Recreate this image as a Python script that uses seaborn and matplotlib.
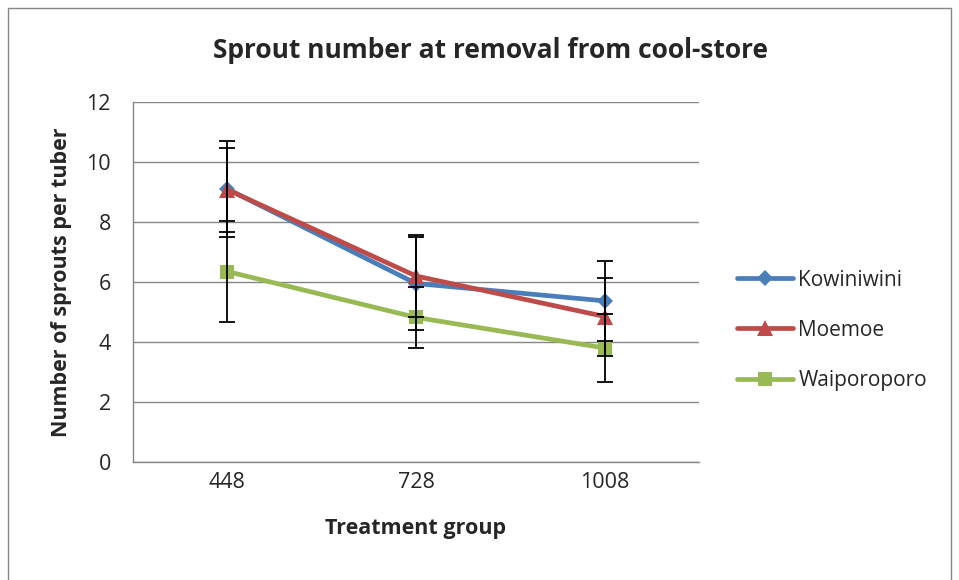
import matplotlib
matplotlib.use("Agg")
import matplotlib.pyplot as plt
import seaborn as sns
import pandas as pd
import numpy as np
from matplotlib.patches import Rectangle

groups = ["448", "728", "1008"]
series = ["Kowiniwini", "Moemoe", "Waiporoporo"]
kowiniwini = [9.1, 5.95, 5.37]
kowiniwini_err = [1.6, 1.55, 1.34]
moemoe = [9.08, 6.2, 4.85]
moemoe_err = [1.4, 1.37, 1.3]
waiporoporo = [6.35, 4.82, 3.8]
waiporoporo_err = [1.67, 1.02, 1.12]

values = {"Kowiniwini": kowiniwini, "Moemoe": moemoe, "Waiporoporo": waiporoporo}
errors = {"Kowiniwini": kowiniwini_err, "Moemoe": moemoe_err, "Waiporoporo": waiporoporo_err}

rows = []
for s in series:
    for i, g in enumerate(groups):
        rows.append({"pos": i, "group": g, "series": s, "value": values[s][i], "err": errors[s][i]})
df = pd.DataFrame(rows)

sns.set_theme(style="white")
plt.rcParams["font.family"] = ["Open Sans", "DejaVu Sans"]

colors = {"Kowiniwini": "#4A7EBB", "Moemoe": "#BE4B48", "Waiporoporo": "#98B954"}
markers = {"Kowiniwini": "D", "Moemoe": "^", "Waiporoporo": "s"}
msizes = {"Kowiniwini": 8, "Moemoe": 11, "Waiporoporo": 10}

fig = plt.figure(figsize=(9.59, 5.8), dpi=100)
fig.patches.append(Rectangle((8/959, -10/580), 943/959, 582/580, transform=fig.transFigure,
                             fill=False, edgecolor="#868686", linewidth=1.0))
ax = fig.add_axes([133/959, 1-462/580, (699-133)/959, (462-102)/580])

for s in series:
    sub = df[df["series"] == s]
    sns.lineplot(data=sub, x="pos", y="value", ax=ax, color=colors[s], linewidth=3.4,
                 marker=markers[s], markersize=msizes[s], markeredgewidth=0,
                 label=s, zorder=3)

for s in series:
    sub = df[df["series"] == s]
    ax.errorbar(sub["pos"], sub["value"], yerr=sub["err"], fmt="none", ecolor="black",
                elinewidth=1.3, capsize=5.5, capthick=1.3, zorder=4)

ax.set_xlim(-0.5, 2.5)
ax.set_ylim(0, 12)
ax.set_yticks(range(0, 13, 2))
ax.set_xticks(range(len(groups)))
ax.set_xticklabels(groups)
ax.set_xticks([-0.5, 0.5, 1.5, 2.5], minor=True)
ax.tick_params(axis="x", which="major", length=0, pad=7, labelsize=15.5)
ax.tick_params(axis="x", which="minor", length=6, width=1, color="#868686", direction="out")
ax.tick_params(axis="y", length=6, width=1, color="#868686", direction="out", labelsize=15.5, pad=10)
ax.grid(axis="y", color="#868686", linewidth=1.0)
ax.set_axisbelow(True)
for sp in ["top", "right"]:
    ax.spines[sp].set_visible(False)
for sp in ["left", "bottom"]:
    ax.spines[sp].set_color("#868686")
    ax.spines[sp].set_linewidth(1.0)

ax.set_xlabel("Treatment group", fontsize=15.5, fontweight="bold", labelpad=18)
ax.set_ylabel("Number of sprouts per tuber", fontsize=15.5, fontweight="bold", labelpad=10)
fig.text(490/959, 1-51/580, "Sprout number at removal from cool-store", ha="center", va="center",
         fontsize=19, fontweight="bold")

leg = ax.legend(loc="center left", bbox_to_anchor=(1.052, 0.366), frameon=False, fontsize=15,
                handlelength=2.7, labelspacing=1.4, handletextpad=0.25, borderaxespad=0)

fig.savefig("out.png", dpi=100)
